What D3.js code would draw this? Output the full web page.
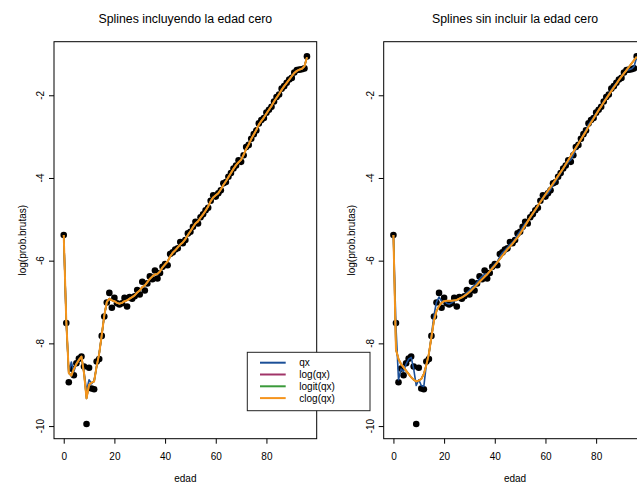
<!DOCTYPE html>
<html>
<head>
<meta charset="utf-8">
<script src="https://cdn.jsdelivr.net/npm/d3@7"></script>
<style>
  html, body { margin: 0; padding: 0; background: #fff; }
  svg { display: block; font-family: "Liberation Sans", Arial, Helvetica, sans-serif; }
</style>
</head>
<body>
<script>
// Edades (años)
const edad = [
  0, 1, 2, 3, 4, 5, 6, 7, 8, 9, 10, 11, 12, 13, 14, 15, 16, 17, 18, 19,
  20, 21, 22, 23, 24, 25, 26, 27, 28, 29, 30, 31, 32, 33, 34, 35, 36, 37, 38, 39,
  40, 41, 42, 43, 44, 45, 46, 47, 48, 49, 50, 51, 52, 53, 54, 55, 56, 57, 58, 59,
  60, 61, 62, 63, 64, 65, 66, 67, 68, 69, 70, 71, 72, 73, 74, 75, 76, 77, 78, 79,
  80, 81, 82, 83, 84, 85, 86, 87, 88, 89, 90, 91, 92, 93, 94, 95, 96
];

// log de las probabilidades brutas de muerte
const probBrutas = [
  -5.38, -7.51, -8.94, -8.61, -8.77, -8.48, -8.37, -8.32, -8.56, -9.95,
  -8.59, -9.09, -9.11, -8.44, -8.38, -7.82, -7.35, -7.01, -6.78, -7.14,
  -6.90, -7.03, -7.06, -7.03, -6.90, -7.11, -6.88, -6.92, -6.86, -6.71,
  -6.82, -6.51, -6.72, -6.55, -6.38, -6.45, -6.24, -6.43, -6.30, -6.15,
  -6.08, -6.11, -5.84, -5.80, -5.73, -5.70, -5.55, -5.58, -5.50, -5.34,
  -5.30, -5.18, -5.06, -5.10, -4.95, -4.88, -4.78, -4.72, -4.55, -4.42,
  -4.45, -4.37, -4.30, -4.13, -4.10, -3.97, -3.88, -3.77, -3.70, -3.57,
  -3.61, -3.45, -3.25, -3.20, -3.05, -2.94, -2.85, -2.68, -2.60, -2.55,
  -2.42, -2.35, -2.28, -2.15, -2.04, -1.98, -1.84, -1.78, -1.70, -1.62,
  -1.58, -1.45, -1.39, -1.38, -1.37, -1.35, -1.06
];

// Ajustes con splines incluyendo la edad cero
const fitQxIncl = [
  -5.38, -7.50, -8.70, -8.45, -8.68, -8.48, -8.38, -8.33, -8.68, -9.15,
  -8.88, -8.98, -8.90, -8.55, -8.25, -7.80, -7.33, -7.00, -6.92, -6.96,
  -6.98, -7.02, -7.04, -7.02, -6.98, -6.96, -6.92, -6.88, -6.84, -6.77,
  -6.72, -6.64, -6.60, -6.52, -6.44, -6.38, -6.33, -6.32, -6.26, -6.16,
  -6.09, -6.02, -5.90, -5.81, -5.75, -5.68, -5.61, -5.56, -5.48, -5.38,
  -5.29, -5.19, -5.10, -5.05, -4.96, -4.88, -4.79, -4.69, -4.56, -4.47,
  -4.42, -4.37, -4.28, -4.17, -4.08, -3.98, -3.88, -3.78, -3.69, -3.62,
  -3.56, -3.44, -3.30, -3.19, -3.06, -2.95, -2.84, -2.71, -2.62, -2.54,
  -2.44, -2.35, -2.26, -2.15, -2.06, -1.97, -1.87, -1.78, -1.70, -1.62,
  -1.54, -1.46, -1.41, -1.38, -1.36, -1.30, -1.08
];
const fitLogIncl = [
  -5.38, -7.45, -8.72, -8.78, -8.62, -8.50, -8.40, -8.32, -8.72, -9.33,
  -9.00, -8.95, -8.92, -8.55, -8.25, -7.80, -7.33, -7.00, -6.92, -6.96,
  -6.98, -7.02, -7.04, -7.02, -6.98, -6.96, -6.92, -6.88, -6.84, -6.77,
  -6.72, -6.64, -6.60, -6.52, -6.44, -6.38, -6.33, -6.32, -6.26, -6.16,
  -6.09, -6.02, -5.90, -5.81, -5.75, -5.68, -5.61, -5.56, -5.48, -5.38,
  -5.29, -5.19, -5.10, -5.05, -4.96, -4.88, -4.79, -4.69, -4.56, -4.47,
  -4.42, -4.37, -4.28, -4.17, -4.08, -3.98, -3.88, -3.78, -3.69, -3.62,
  -3.56, -3.44, -3.30, -3.19, -3.06, -2.95, -2.84, -2.71, -2.62, -2.54,
  -2.44, -2.35, -2.26, -2.15, -2.06, -1.97, -1.87, -1.78, -1.70, -1.62,
  -1.54, -1.46, -1.41, -1.38, -1.36, -1.30, -1.08
];
const fitLogitIncl = [
  -5.38, -7.45, -8.72, -8.78, -8.62, -8.50, -8.40, -8.32, -8.72, -9.33,
  -9.00, -8.95, -8.92, -8.55, -8.25, -7.80, -7.33, -7.00, -6.92, -6.96,
  -6.98, -7.02, -7.04, -7.02, -6.98, -6.96, -6.92, -6.88, -6.84, -6.77,
  -6.72, -6.64, -6.60, -6.52, -6.44, -6.38, -6.33, -6.32, -6.26, -6.16,
  -6.09, -6.02, -5.90, -5.81, -5.75, -5.68, -5.61, -5.56, -5.48, -5.38,
  -5.29, -5.19, -5.10, -5.05, -4.96, -4.88, -4.79, -4.69, -4.56, -4.47,
  -4.42, -4.37, -4.28, -4.17, -4.08, -3.98, -3.88, -3.78, -3.69, -3.62,
  -3.56, -3.44, -3.30, -3.19, -3.06, -2.95, -2.84, -2.71, -2.62, -2.54,
  -2.44, -2.35, -2.26, -2.15, -2.06, -1.97, -1.87, -1.78, -1.70, -1.62,
  -1.54, -1.46, -1.41, -1.38, -1.36, -1.30, -1.08
];
const fitClogIncl = [
  -5.38, -7.45, -8.72, -8.78, -8.62, -8.50, -8.40, -8.32, -8.72, -9.33,
  -9.00, -8.95, -8.92, -8.55, -8.25, -7.80, -7.33, -7.00, -6.92, -6.96,
  -6.98, -7.02, -7.04, -7.02, -6.98, -6.96, -6.92, -6.88, -6.84, -6.77,
  -6.72, -6.64, -6.60, -6.52, -6.44, -6.38, -6.33, -6.32, -6.26, -6.16,
  -6.09, -6.02, -5.90, -5.81, -5.75, -5.68, -5.61, -5.56, -5.48, -5.38,
  -5.29, -5.19, -5.10, -5.05, -4.96, -4.88, -4.79, -4.69, -4.56, -4.47,
  -4.42, -4.37, -4.28, -4.17, -4.08, -3.98, -3.88, -3.78, -3.69, -3.62,
  -3.56, -3.44, -3.30, -3.19, -3.06, -2.95, -2.84, -2.71, -2.62, -2.54,
  -2.44, -2.35, -2.26, -2.15, -2.06, -1.97, -1.87, -1.78, -1.70, -1.62,
  -1.54, -1.46, -1.41, -1.38, -1.36, -1.30, -1.08
];

// Ajustes con splines sin incluir la edad cero
const fitQxSin = [
  -5.38, -7.60, -8.88, -8.62, -8.68, -8.50, -8.38, -8.34, -8.62, -9.02,
  -8.88, -9.02, -9.04, -8.50, -8.28, -7.80, -7.32, -7.00, -6.88, -6.98,
  -6.97, -7.03, -7.05, -7.02, -6.97, -6.96, -6.92, -6.88, -6.84, -6.77,
  -6.72, -6.64, -6.60, -6.52, -6.44, -6.38, -6.33, -6.32, -6.26, -6.16,
  -6.09, -6.02, -5.90, -5.81, -5.75, -5.68, -5.61, -5.56, -5.48, -5.38,
  -5.29, -5.19, -5.10, -5.05, -4.96, -4.88, -4.79, -4.69, -4.56, -4.47,
  -4.42, -4.37, -4.28, -4.17, -4.08, -3.98, -3.88, -3.78, -3.69, -3.62,
  -3.56, -3.44, -3.30, -3.19, -3.06, -2.95, -2.84, -2.71, -2.62, -2.54,
  -2.44, -2.35, -2.26, -2.15, -2.06, -1.97, -1.87, -1.78, -1.70, -1.62,
  -1.54, -1.46, -1.41, -1.38, -1.36, -1.30, -1.08
];
const fitLogSin = [
  -5.38, -8.15, -8.38, -8.50, -8.58, -8.66, -8.74, -8.82, -8.88, -8.92,
  -8.90, -8.86, -8.74, -8.52, -8.25, -7.85, -7.45, -7.22, -7.10, -7.02,
  -6.98, -6.97, -6.97, -6.97, -6.96, -6.95, -6.92, -6.89, -6.85, -6.81,
  -6.76, -6.70, -6.64, -6.58, -6.51, -6.45, -6.39, -6.33, -6.26, -6.19,
  -6.12, -6.04, -5.96, -5.88, -5.80, -5.72, -5.66, -5.59, -5.51, -5.44,
  -5.35, -5.25, -5.15, -5.05, -4.95, -4.86, -4.77, -4.67, -4.58, -4.49,
  -4.40, -4.31, -4.22, -4.13, -4.04, -3.95, -3.86, -3.77, -3.67, -3.57,
  -3.47, -3.37, -3.27, -3.17, -3.07, -2.97, -2.87, -2.76, -2.66, -2.56,
  -2.46, -2.36, -2.27, -2.17, -2.08, -1.99, -1.90, -1.81, -1.72, -1.63,
  -1.55, -1.47, -1.39, -1.31, -1.23, -1.15, -1.07
];
const fitLogitSin = [
  -5.38, -8.15, -8.38, -8.50, -8.58, -8.66, -8.74, -8.82, -8.88, -8.92,
  -8.90, -8.86, -8.74, -8.52, -8.25, -7.85, -7.45, -7.22, -7.10, -7.02,
  -6.98, -6.97, -6.97, -6.97, -6.96, -6.95, -6.92, -6.89, -6.85, -6.81,
  -6.76, -6.70, -6.64, -6.58, -6.51, -6.45, -6.39, -6.33, -6.26, -6.19,
  -6.12, -6.04, -5.96, -5.88, -5.80, -5.72, -5.66, -5.59, -5.51, -5.44,
  -5.35, -5.25, -5.15, -5.05, -4.95, -4.86, -4.77, -4.67, -4.58, -4.49,
  -4.40, -4.31, -4.22, -4.13, -4.04, -3.95, -3.86, -3.77, -3.67, -3.57,
  -3.47, -3.37, -3.27, -3.17, -3.07, -2.97, -2.87, -2.76, -2.66, -2.56,
  -2.46, -2.36, -2.27, -2.17, -2.08, -1.99, -1.90, -1.81, -1.72, -1.63,
  -1.55, -1.47, -1.39, -1.31, -1.23, -1.15, -1.07
];
const fitClogSin = [
  -5.38, -8.15, -8.38, -8.50, -8.58, -8.66, -8.74, -8.82, -8.88, -8.92,
  -8.90, -8.86, -8.74, -8.52, -8.25, -7.85, -7.45, -7.22, -7.10, -7.02,
  -6.98, -6.97, -6.97, -6.97, -6.96, -6.95, -6.92, -6.89, -6.85, -6.81,
  -6.76, -6.70, -6.64, -6.58, -6.51, -6.45, -6.39, -6.33, -6.26, -6.19,
  -6.12, -6.04, -5.96, -5.88, -5.80, -5.72, -5.66, -5.59, -5.51, -5.44,
  -5.35, -5.25, -5.15, -5.05, -4.95, -4.86, -4.77, -4.67, -4.58, -4.49,
  -4.40, -4.31, -4.22, -4.13, -4.04, -3.95, -3.86, -3.77, -3.67, -3.57,
  -3.47, -3.37, -3.27, -3.17, -3.07, -2.97, -2.87, -2.76, -2.66, -2.56,
  -2.46, -2.36, -2.27, -2.17, -2.08, -1.99, -1.90, -1.81, -1.72, -1.63,
  -1.55, -1.47, -1.39, -1.31, -1.23, -1.15, -1.07
];

// Ejes y leyenda
const xTicks = [0, 20, 40, 60, 80];
const xTickLabels = ["0", "20", "40", "60", "80"];
const yTicks = [-10, -8, -6, -4, -2];
const yTickLabels = ["-10", "-8", "-6", "-4", "-2"];
const serieNombres = ["qx", "log(qx)", "logit(qx)", "clog(qx)"];
const serieColores = ["#1b4f97", "#a03468", "#3a9a3a", "#f5941c"];
const titulos = ["Splines incluyendo la edad cero", "Splines sin incluir la edad cero"];

const W = 637, H = 490;
const svg = d3.select("body").append("svg")
  .attr("width", W).attr("height", H)
  .attr("viewBox", `0 0 ${W} ${H}`);

function dibujarPanel(left, titulo, ajustes) {
  const plotW = 262.7, top = 41.7, bottom = 438.7;
  const g = svg.append("g");

  // Escalas con el 4% de margen de R
  const xe = d3.extent(edad);
  const xp = (xe[1] - xe[0]) * 0.04;
  const x = d3.scaleLinear().domain([xe[0] - xp, xe[1] + xp]).range([left, left + plotW]);
  const ye = d3.extent(probBrutas.concat(...ajustes));
  const yp = (ye[1] - ye[0]) * 0.04;
  const y = d3.scaleLinear().domain([ye[0] - yp, ye[1] + yp]).range([bottom, top]);

  // Puntos observados
  g.append("g").selectAll("circle")
    .data(probBrutas)
    .join("circle")
    .attr("cx", (d, i) => x(edad[i]))
    .attr("cy", d => y(d))
    .attr("r", 3.3)
    .attr("fill", "#000");

  // Curvas ajustadas
  const linea = d3.line().x((d, i) => x(edad[i])).y(d => y(d));
  ajustes.forEach((serie, k) => {
    g.append("path")
      .attr("d", linea(serie))
      .attr("fill", "none")
      .attr("stroke", serieColores[k])
      .attr("stroke-width", k === 3 ? 2 : 1.6)
      .attr("stroke-linejoin", "round");
  });

  // Marco
  g.append("rect")
    .attr("x", left).attr("y", top)
    .attr("width", plotW).attr("height", bottom - top)
    .attr("fill", "none").attr("stroke", "#000").attr("stroke-width", 1);

  // Eje x
  const ax = g.append("g").attr("transform", `translate(0,${bottom})`)
    .call(d3.axisBottom(x).tickValues(xTicks).tickSize(5).tickFormat((d, i) => xTickLabels[i]).tickPadding(9));
  ax.select(".domain").remove();
  ax.selectAll("text").attr("font-size", 10).attr("fill", "#000").attr("font-family", null);
  ax.selectAll("line").attr("stroke", "#000");

  // Eje y
  const ay = g.append("g").attr("transform", `translate(${left},0)`)
    .call(d3.axisLeft(y).tickValues(yTicks).tickSize(5).tickFormat(""));
  ay.select(".domain").remove();
  ay.selectAll("line").attr("stroke", "#000");
  g.append("g").selectAll("text")
    .data(yTicks)
    .join("text")
    .attr("transform", d => `translate(${left - 10},${y(d)}) rotate(-90)`)
    .attr("text-anchor", "middle")
    .attr("font-size", 10)
    .attr("fill", "#000")
    .text((d, i) => yTickLabels[i]);

  // Títulos
  const cx = left + plotW / 2;
  g.append("text").attr("x", cx).attr("y", 22.5)
    .attr("text-anchor", "middle").attr("font-size", 12.3).attr("fill", "#000")
    .text(titulo);
  g.append("text").attr("x", cx).attr("y", 482)
    .attr("text-anchor", "middle").attr("font-size", 10).attr("fill", "#000")
    .text("edad");
  g.append("text")
    .attr("transform", `translate(${left - 28.5},${(top + bottom) / 2}) rotate(-90)`)
    .attr("text-anchor", "middle").attr("font-size", 10).attr("fill", "#000")
    .text("log(prob.brutas)");
}

dibujarPanel(54, titulos[0], [fitQxIncl, fitLogIncl, fitLogitIncl, fitClogIncl]);
dibujarPanel(383.7, titulos[1], [fitQxSin, fitLogSin, fitLogitSin, fitClogSin]);

// Leyenda
const ley = svg.append("g");
ley.append("rect")
  .attr("x", 247.3).attr("y", 352.3).attr("width", 122.7).attr("height", 58.4)
  .attr("fill", "#fff").attr("stroke", "#222").attr("stroke-width", 1);
serieNombres.forEach((nombre, k) => {
  const yy = 362.7 + k * 11.8;
  ley.append("line")
    .attr("x1", 260).attr("x2", 285.7).attr("y1", yy).attr("y2", yy)
    .attr("stroke", serieColores[k]).attr("stroke-width", 2);
  ley.append("text")
    .attr("x", 299.3).attr("y", yy + 3.6)
    .attr("font-size", 10).attr("fill", "#000")
    .text(nombre);
});
</script>
</body>
</html>
